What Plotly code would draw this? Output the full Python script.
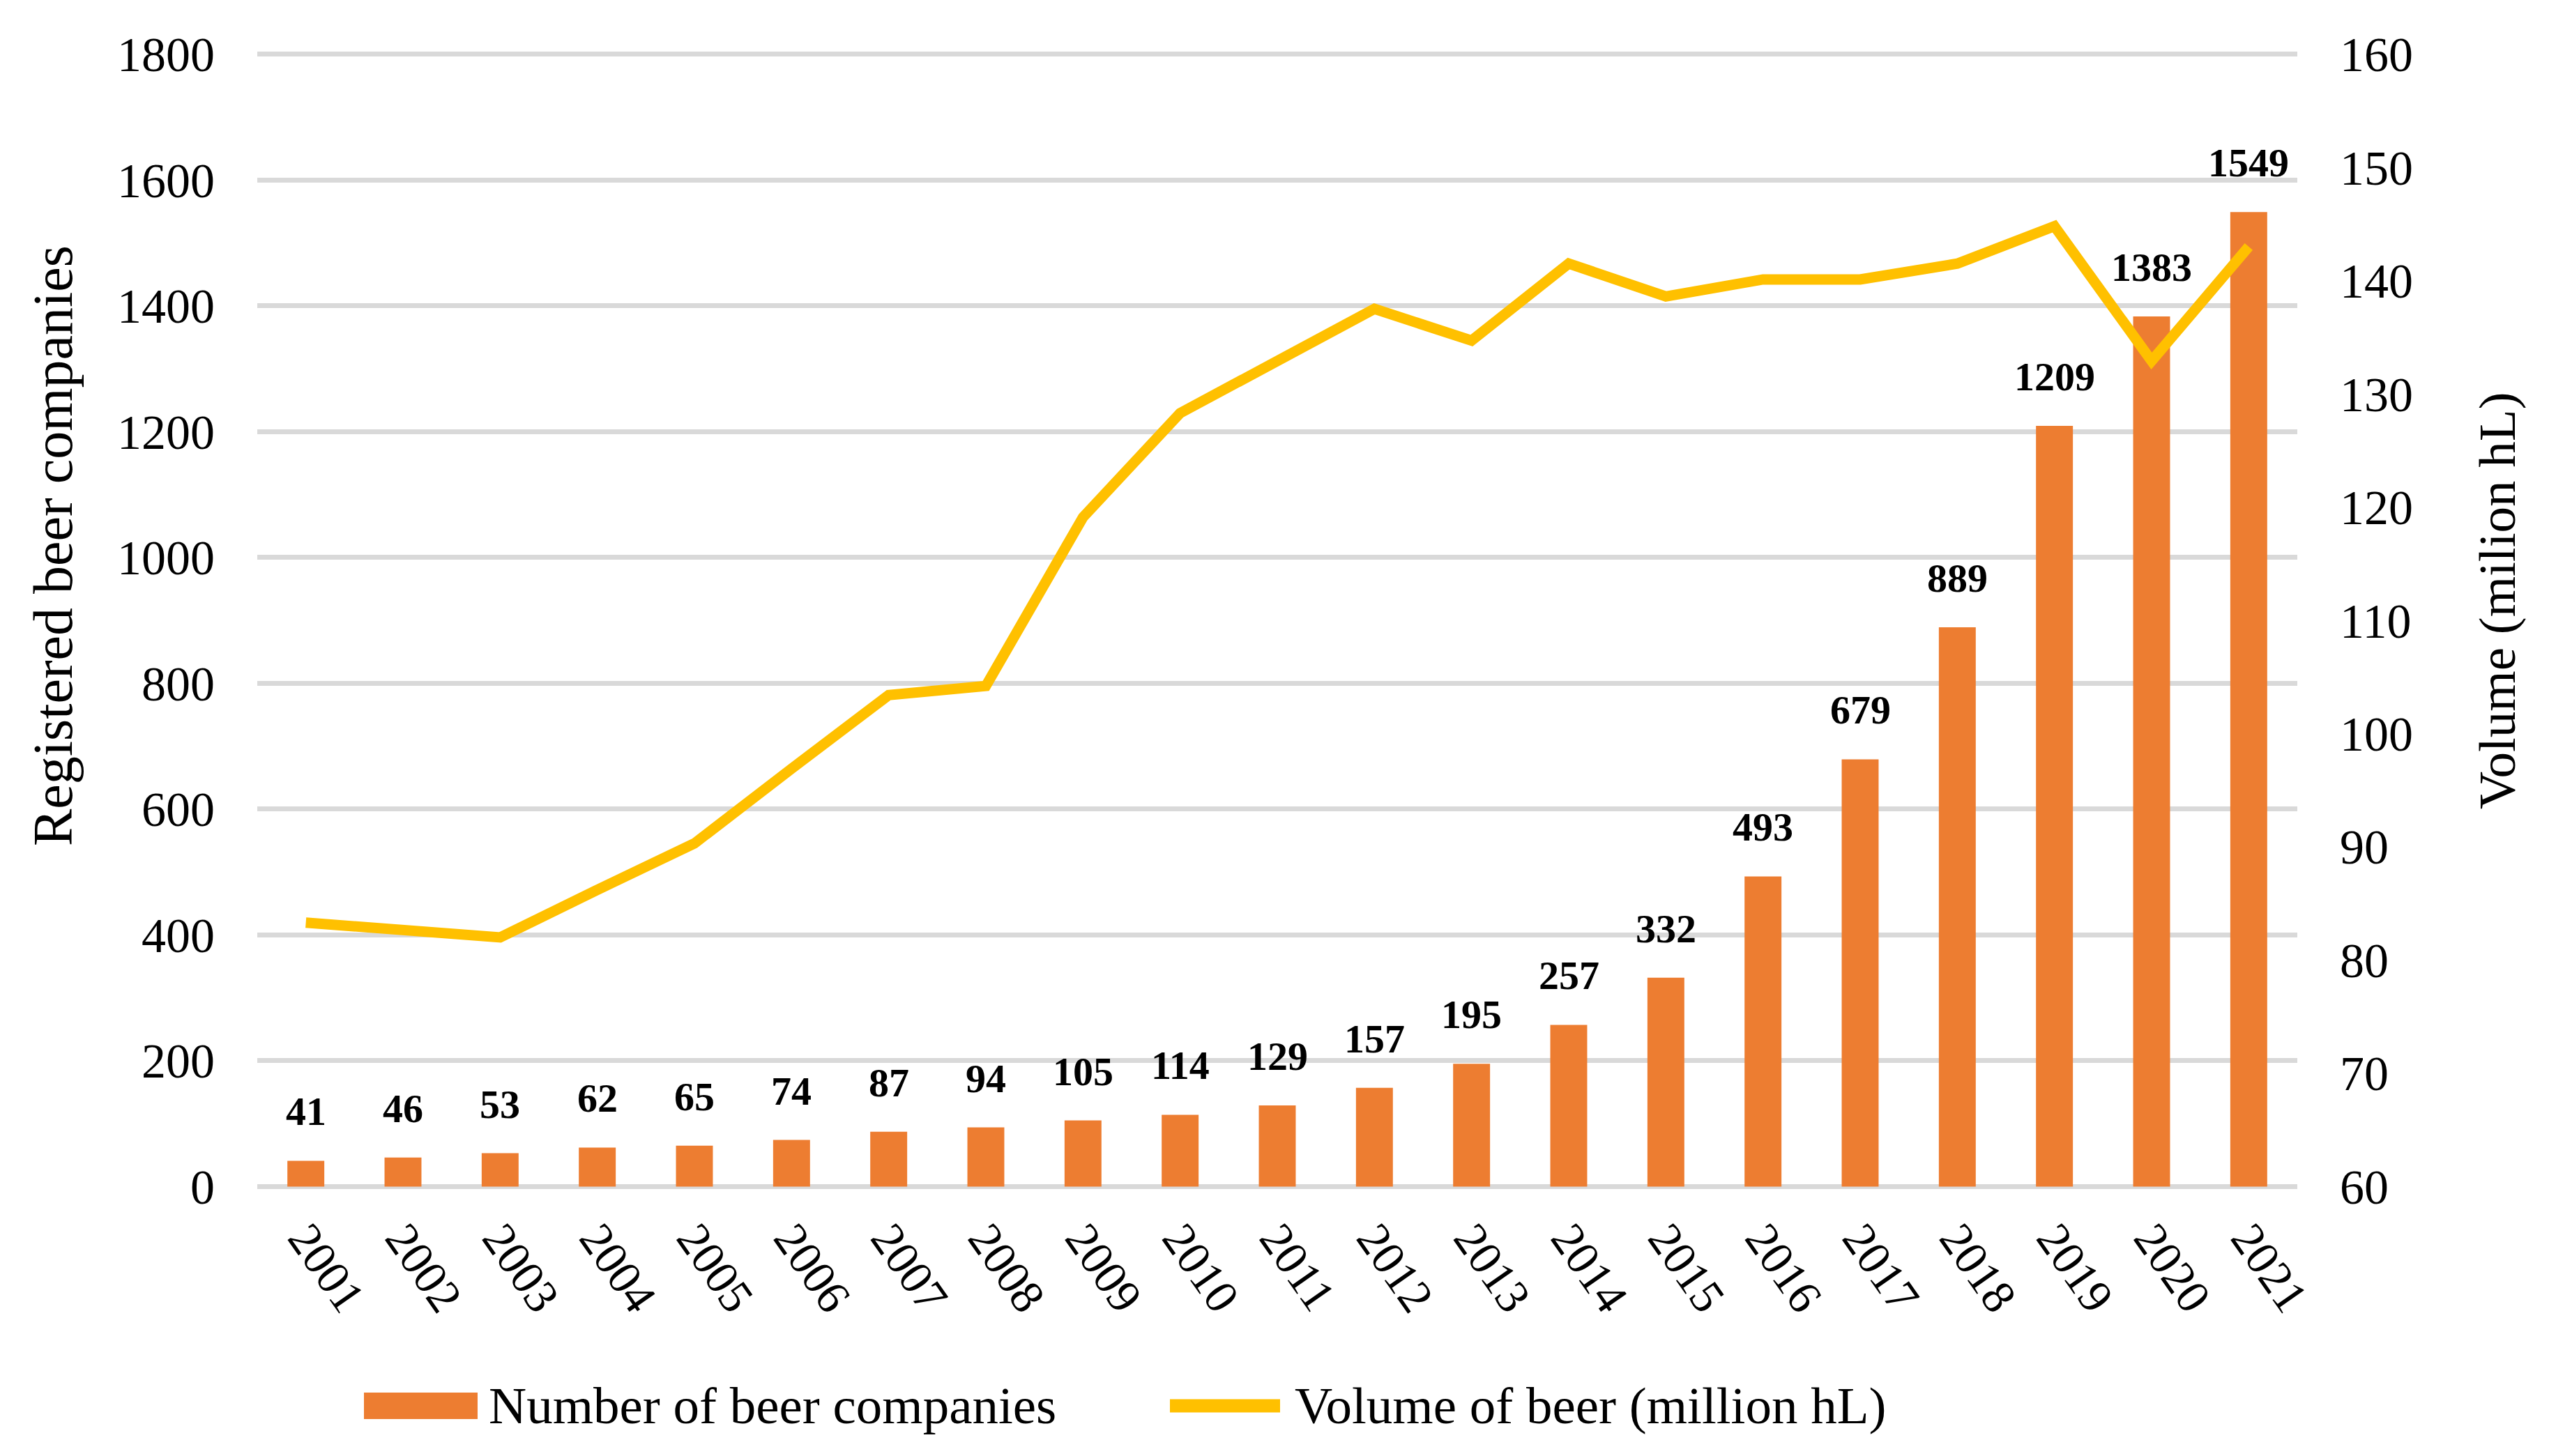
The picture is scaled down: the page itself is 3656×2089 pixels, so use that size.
'''
Registered beer companies (bars) and beer volume (line), 2001-2021
'''
import plotly.graph_objects as go

years = [str(y) for y in range(2001, 2022)]
companies = [41, 46, 53, 62, 65, 74, 87, 94, 105, 114, 129, 157, 195, 257,
             332, 493, 679, 889, 1209, 1383, 1549]
volume = [83.3, 82.7, 82.0, 86.2, 90.3, 96.9, 103.4, 104.2, 119.1, 128.3,
          132.9, 137.5, 134.7, 141.5, 138.6, 140.1, 140.1, 141.5, 144.8,
          132.9, 143.0]

bar_name = 'Number of beer companies'
line_name = 'Volume of beer (million hL)'
left_title = 'Registered beer companies'
right_title = 'Volume (milion hL)'

FONT = 'Liberation Serif'
ORANGE = '#ED7D31'
YELLOW = '#FFC000'
GRID = '#D9D9D9'

# plot area in page pixels, used to place the hand made legend / titles
W, H = 3656, 2089
L, R, T, B = 369, 3295, 74, 1706


def px(x):
    return (x - L) / (R - L)


def py(y):
    return (B - y) / (B - T)


# small padding on the ranges so the gridlines at 0 and 1800 are drawn
pad = 4
y_rng = [0 - pad, 1800 + pad]
y2_rng = [60 - pad / 18, 160 + pad / 18]

fig = go.Figure()
fig.add_trace(go.Bar(x=years, y=companies, name=bar_name,
                     marker_color=ORANGE, marker_line_width=0))
fig.add_trace(go.Scatter(x=years, y=volume, name=line_name, yaxis='y2',
                         mode='lines',
                         line=dict(color=YELLOW, width=15, shape='linear')))

# value labels above the bars (category axis -> use the category index)
for i, n in enumerate(companies):
    fig.add_annotation(x=i, y=n, text='<b>%d</b>' % n, showarrow=False,
                       xanchor='center', yanchor='bottom', yshift=36,
                       font=dict(family=FONT, size=58, color='black'))

# axis titles
fig.add_annotation(x=px(76), y=py(783), xref='paper', yref='paper',
                   xanchor='center', yanchor='middle',
                   text=left_title, textangle=-90, showarrow=False,
                   font=dict(family=FONT, size=80, color='black'))
fig.add_annotation(x=px(3582), y=py(861), xref='paper', yref='paper',
                   xanchor='center', yanchor='middle',
                   text=right_title, textangle=-90, showarrow=False,
                   font=dict(family=FONT, size=75, color='black'))

# legend drawn by hand so the keys keep the size of the original
fig.add_shape(type='rect', xref='paper', yref='paper',
              x0=px(522), x1=px(685), y0=py(2036), y1=py(1998),
              fillcolor=ORANGE, line_width=0)
fig.add_shape(type='line', xref='paper', yref='paper',
              x0=px(1678), x1=px(1836), y0=py(2017), y1=py(2017),
              line=dict(color=YELLOW, width=19))
fig.add_annotation(x=px(699), y=py(2017), xref='paper', yref='paper',
                   text=bar_name, showarrow=False, xanchor='left',
                   yanchor='middle',
                   font=dict(family=FONT, size=75, color='black'))
fig.add_annotation(x=px(1855), y=py(2017), xref='paper', yref='paper',
                   text=line_name, showarrow=False, xanchor='left',
                   yanchor='middle',
                   font=dict(family=FONT, size=75, color='black'))

fig.update_layout(
    width=W, height=H,
    margin=dict(l=L, r=W - R, t=T, b=H - B, pad=0),
    paper_bgcolor='white', plot_bgcolor='white',
    font=dict(family=FONT, size=70, color='black'),
    showlegend=False,
    bargap=0.62,
    xaxis=dict(type='category', range=[-0.5, len(years) - 0.5],
               tickangle=55, showgrid=False, showline=False, ticks='',
               ticklabelstandoff=16, tickfont=dict(family=FONT, size=68)),
    yaxis=dict(range=y_rng, tick0=0, dtick=200, showgrid=True,
               gridcolor=GRID, gridwidth=7, zeroline=False, showline=False,
               ticks='', ticklabelstandoff=60,
               tickfont=dict(family=FONT, size=70)),
    yaxis2=dict(range=y2_rng, tick0=60, dtick=10, overlaying='y',
                side='right', showgrid=False, zeroline=False,
                showline=False, ticks='', ticklabelstandoff=60,
                tickfont=dict(family=FONT, size=70)),
)

# page has a default 8px body margin, drop it so the figure fills the window
fig.write_html('out.html', config={'displayModeBar': False},
               post_script="document.body.style.margin='0';")
